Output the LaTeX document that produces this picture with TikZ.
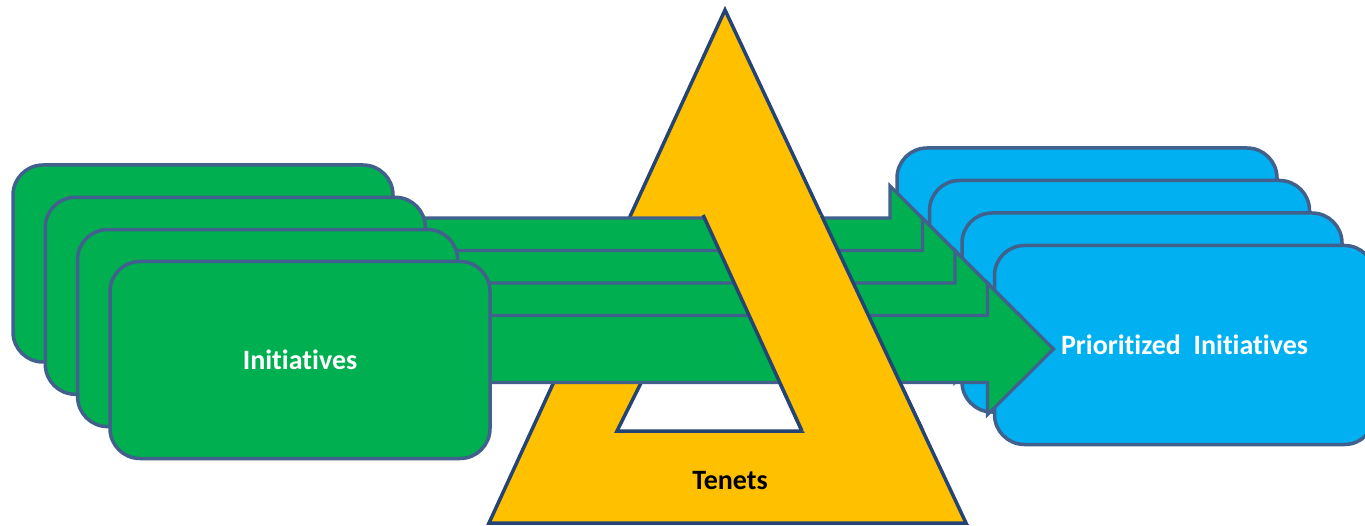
\documentclass[tikz,border=0pt]{standalone}
\usepackage{fontspec}
\setmainfont{Carlito}[RawFeature=-liga]
\usepackage{xcolor}
\definecolor{initgreen}{RGB}{0, 176, 80}
\definecolor{prioblue}{RGB}{0, 176, 240}
\definecolor{tenetyellow}{RGB}{255, 192, 0}
\definecolor{edgeblue}{RGB}{65, 96, 140}
\definecolor{edgedark}{RGB}{36, 68, 118}

\begin{document}
\begin{tikzpicture}[x=1pt, y=-1pt,
    greenbox/.style={draw=edgeblue, line width=3.5pt, fill=initgreen, rounded corners=30pt,
        minimum width=380pt, minimum height=197pt, text=white,
        font=\fontsize{28}{34}\selectfont\bfseries},
    bluebox/.style={draw=edgeblue, line width=3.5pt, fill=prioblue, rounded corners=30pt,
        minimum width=380pt, minimum height=199pt, text=white,
        font=\fontsize{28}{34}\selectfont\bfseries},
    initarrow/.style={draw=edgeblue, line width=3.2pt, fill=initgreen, line join=miter},
    tenetline/.style={draw=edgedark, line width=3.5pt, line join=miter}]
    \useasboundingbox (0,0) rectangle (1365,526);

    % prioritized stack, back to front
    \node[bluebox] (prio1) at (1087, 247.5) {};
    \node[bluebox] (prio2) at (1119.5, 280) {};
    \node[bluebox] (prio3) at (1152, 312.5) {};
    \node[bluebox] (prio4) at (1184.5, 345) {Prioritized\ \ Initiatives};

    % tenets triangle with its hole, behind the arrows
    \filldraw[tenetline, fill=tenetyellow, even odd rule]
        (725, 10) -- (966, 523) -- (489, 523) -- cycle
        (617, 431) -- (802, 431) -- (713.5, 238) -- cycle;

    % arrows, one per initiative
    \draw[initarrow] (300, 218) -- (890, 218) -- (890, 186) -- (956, 251.5)
        -- (890, 317) -- (890, 285) -- (300, 285) -- cycle;
    \draw[initarrow, shift={(32.5, 32.5)}] (300, 218) -- (890, 218) -- (890, 186) -- (956, 251.5)
        -- (890, 317) -- (890, 285) -- (300, 285) -- cycle;
    \draw[initarrow, shift={(65, 65)}] (300, 218) -- (890, 218) -- (890, 186) -- (956, 251.5)
        -- (890, 317) -- (890, 285) -- (300, 285) -- cycle;
    \draw[initarrow, shift={(97.5, 97.5)}] (300, 218) -- (890, 218) -- (890, 186) -- (956, 251.5)
        -- (890, 317) -- (890, 285) -- (300, 285) -- cycle;

    % initiatives stack, back to front
    \node[greenbox] (init1) at (203, 263.5) {};
    \node[greenbox] (init2) at (235.3, 295.8) {};
    \node[greenbox] (init3) at (267.6, 328.1) {};
    \node[greenbox] (init4) at (300, 360) {Initiatives};

    % right leg of the triangle passes over the arrows
    \fill[tenetyellow] (703.1, 215) -- (821.3, 215) -- (922.8, 431) -- (802, 431) -- cycle;
    \draw[tenetline] (703.1, 215) -- (802, 431);
    \draw[tenetline] (821.3, 215) -- (922.8, 431);

    \node[font=\fontsize{28}{34}\selectfont\bfseries] (tenets) at (730, 481) {Tenets};
\end{tikzpicture}
\end{document}
